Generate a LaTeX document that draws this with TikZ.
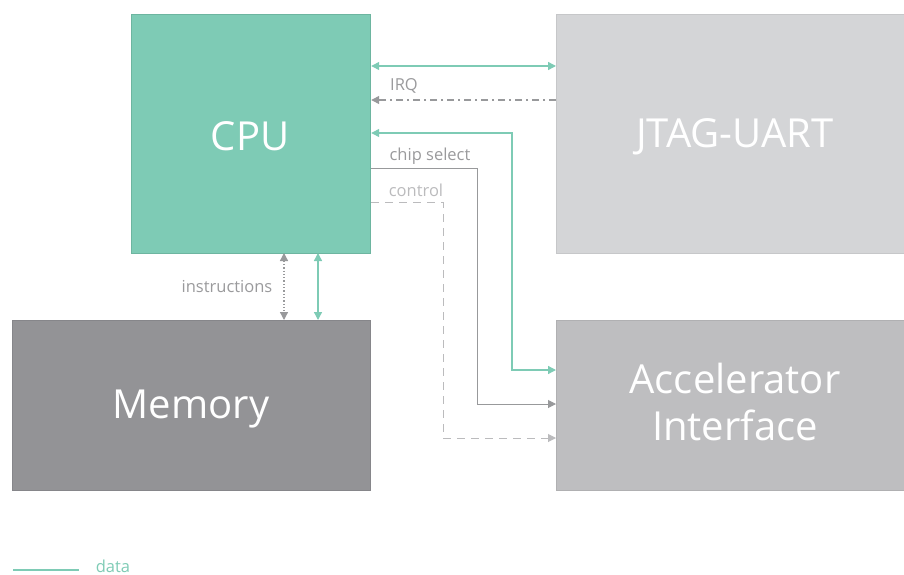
\documentclass[tikz,border=0pt]{standalone}
\usepackage{fontspec}
\setmainfont{Open Sans}
\newfontfamily\lightfont{Open Sans}[UprightFont=* Light]
\usetikzlibrary{arrows.meta}
\definecolor{dgreen}{HTML}{7ECBB5}
\definecolor{dgreenb}{HTML}{6DB5A0}
\definecolor{cpufill}{HTML}{7ECBB5}
\definecolor{jtagfill}{HTML}{D4D5D7}
\definecolor{jtagb}{HTML}{C6C7C9}
\definecolor{memfill}{HTML}{939396}
\definecolor{memb}{HTML}{86868A}
\definecolor{accfill}{HTML}{BEBEC0}
\definecolor{accb}{HTML}{B0B0B2}
\definecolor{arrgray}{HTML}{98999B}
\definecolor{ctlgray}{HTML}{BBBBBD}
\definecolor{labgray}{HTML}{9A9A9C}
\begin{document}
\begin{tikzpicture}[x=1pt,y=-1pt,
  blockbox/.style={draw, line width=1.2pt, anchor=north west, inner sep=0pt},
  bigtext/.style={text=white, font=\fontsize{40}{47}\selectfont, anchor=base, inner sep=0pt},
  lab/.style={text=labgray, font=\fontsize{16.5}{20}\selectfont, inner sep=0pt},
  tip/.style={-{Triangle[length=8pt,width=8pt]}},
  tips/.style={{Triangle[length=8pt,width=8pt]}-{Triangle[length=8pt,width=8pt]}},
  dataline/.style={draw=dgreen, line width=1.3pt, color=dgreen},
  grayline/.style={draw=arrgray, line width=1pt, color=arrgray},
  ctlline/.style={draw=ctlgray, line width=1pt, color=ctlgray, dash pattern=on 8pt off 6pt},
  irqline/.style={draw=arrgray, line width=1.3pt, color=arrgray, dash pattern=on 7pt off 4pt on 2pt off 4pt},
  ]
\useasboundingbox (0,0) rectangle (904,575);
\node[blockbox, draw=dgreenb, fill=cpufill, minimum width=239pt, minimum height=239pt] (cpu) at (131,14) {};
\node[bigtext] (cputxt) at (250,150) {CPU};
\node[blockbox, draw=jtagb, fill=jtagfill, minimum width=352pt, minimum height=239pt] (jtag) at (556,14) {};
\node[bigtext] (jtagtxt) at (735,147) {JTAG-UART};
\node[blockbox, draw=memb, fill=memfill, minimum width=358pt, minimum height=170pt] (mem) at (12,320) {};
\node[bigtext] (memtxt) at (191,418) {Memory};
\node[blockbox, draw=accb, fill=accfill, minimum width=352pt, minimum height=170pt] (acc) at (556,320) {};
\node[bigtext] (acctxt1) at (735,393) {Accelerator};
\node[bigtext] (acctxt2) at (735,440) {Interface};

% CPU <-> JTAG data
\draw[dataline, tips] (cpu.east |- 0,66) -- (jtag.west |- 0,66);
% IRQ
\draw[irqline, tip] (jtag.west |- 0,100) -- (cpu.east |- 0,100);
\node[lab] (irq) at (404,86) {IRQ};
% data CPU <-> accelerator
\coordinate (d1) at (512,133);
\coordinate (d2) at (512,370);
\draw[dataline, tips] (cpu.east |- d1) -- (d1) -- (d2) -- (acc.west |- d2);
% chip select
\coordinate (c1) at (477,168);
\coordinate (c2) at (477,404);
\draw[grayline, tip] (cpu.east |- c1) -- (c1) -- (c2) -- (acc.west |- c2);
\node[lab] (cs) at (430,156) {chip select};
% control
\coordinate (k1) at (443,202);
\coordinate (k2) at (443,438);
\draw[ctlline, tip] (cpu.east |- k1) -- (k1) -- (k2) -- (acc.west |- k2);
\node[lab, text=ctlgray] (ctl) at (416,190) {control};
% instructions
\draw[grayline, line width=1.3pt, dotted, tips] (284,253) -- (284,320);
\node[lab] (ins) at (227,287) {instructions};
% data cpu <-> mem
\draw[dataline, tips] (318,253) -- (318,320);

% legend
\coordinate (l1) at (13,570);
\coordinate (l2) at (79,570);
\draw[dataline] (l1) -- (l2);
\node[lab, text=dgreen] (legdata) at (113,566) {data};
\end{tikzpicture}
\end{document}
